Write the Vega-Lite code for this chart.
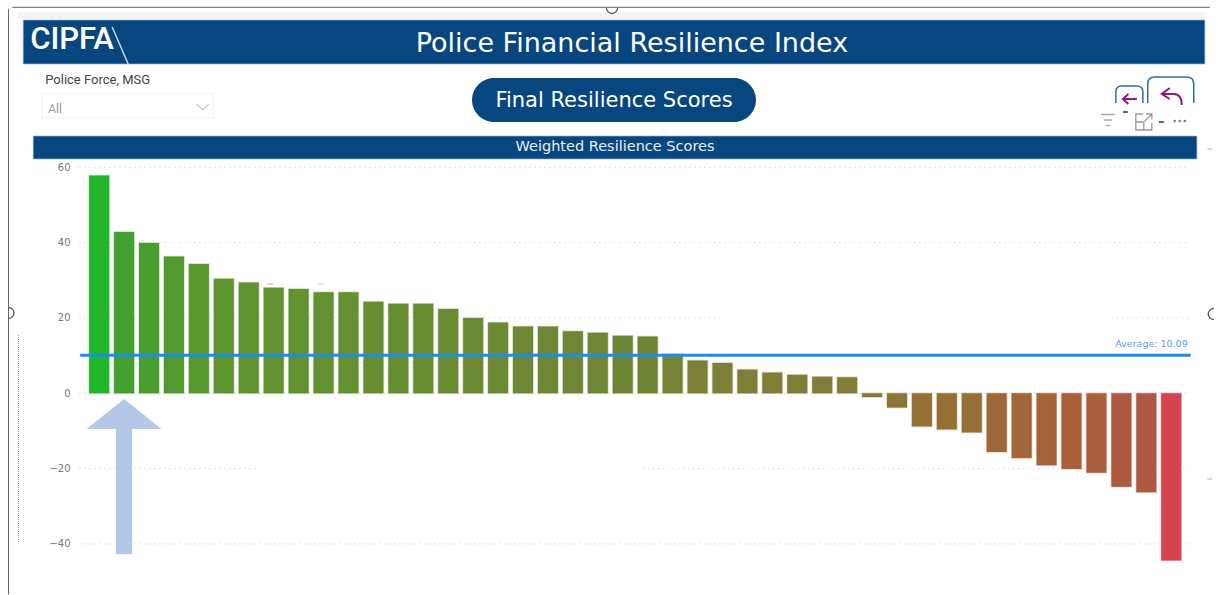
{
"$schema":"https://vega.github.io/schema/vega-lite/v6.json",
"width":1218,"height":595,"padding":0,
"autosize":{"type":"fit","contains":"padding"},
"background":"#ffffff",
"config":{"view":{"stroke":null},"font":"DejaVu Sans"},
"data":{"values":[
{"rank":1,"score":57.8},{"rank":2,"score":42.8},{"rank":3,"score":39.9},{"rank":4,"score":36.3},{"rank":5,"score":34.3},{"rank":6,"score":30.4},{"rank":7,"score":29.4},{"rank":8,"score":28.05},{"rank":9,"score":27.7},{"rank":10,"score":26.8},{"rank":11,"score":26.8},{"rank":12,"score":24.3},{"rank":13,"score":23.8},{"rank":14,"score":23.8},{"rank":15,"score":22.4},{"rank":16,"score":20.0},{"rank":17,"score":18.8},{"rank":18,"score":17.7},{"rank":19,"score":17.7},{"rank":20,"score":16.5},{"rank":21,"score":16.1},{"rank":22,"score":15.3},{"rank":23,"score":15.1},{"rank":24,"score":10.4},{"rank":25,"score":8.7},{"rank":26,"score":8.05},{"rank":27,"score":6.3},{"rank":28,"score":5.5},{"rank":29,"score":4.9},{"rank":30,"score":4.4},{"rank":31,"score":4.25},{"rank":32,"score":-1.0},{"rank":33,"score":-3.8},{"rank":34,"score":-8.8},{"rank":35,"score":-9.6},{"rank":36,"score":-10.4},{"rank":37,"score":-15.6},{"rank":38,"score":-17.2},{"rank":39,"score":-19.1},{"rank":40,"score":-20.1},{"rank":41,"score":-21.1},{"rank":42,"score":-24.8},{"rank":43,"score":-26.3},{"rank":44,"score":-44.4}
]},
"encoding":{
"x":{"field":"rank","type":"quantitative","scale":{"domain":[-2.777,45.675],"nice":false,"zero":false},"axis":null},
"y":{"field":"score","type":"quantitative","scale":{"domain":[-53.55,104.41],"nice":false,"zero":false},"axis":{"values":[-40,-20,0,20,40,60],"title":null,"offset":-74,"minExtent":0,"maxExtent":0,"domain":false,"ticks":false,"grid":false,"labelPadding":4,"labelColor":"#777777","labelFontSize":10,"labelFont":"DejaVu Sans"}}
},
"layer":[
{"data":{"values":[
{"rank":0.198,"rank2":44.74,"score":60},{"rank":0.198,"rank2":44.74,"score":40},{"rank":0.198,"rank2":26.02,"score":20},{"rank":41.62,"rank2":44.74,"score":20},{"rank":0.198,"rank2":44.74,"score":0},{"rank":0.198,"rank2":7.375,"score":-20},{"rank":22.81,"rank2":44.74,"score":-20},{"rank":0.198,"rank2":44.74,"score":-40}
]},"mark":{"type":"rule","stroke":"#d8d8d8","strokeWidth":1,"strokeDash":[1.5,3.5]},"encoding":{"x2":{"field":"rank2"}}},

{"mark":{"type":"bar","orient":"vertical","width":20,"strokeWidth":1.5,"strokeOpacity":0.3},
"encoding":{"y2":{"datum":0},
"color":{"field":"score","type":"quantitative","legend":null,"scale":{"domain":[-44.4,-26.3,0,15,42.8,57.8],"range":["#d64350","#ae5843","#857a3a","#6f8536","#41a030","#22b62a"]}},
"stroke":{"field":"score","type":"quantitative","legend":null,"scale":{"domain":[-44.4,-26.3,0,15,42.8,57.8],"range":["#d64350","#ae5843","#857a3a","#6f8536","#41a030","#22b62a"]}}}},

{"data":{"values":[{"rank":0.238,"rank2":44.78,"score":10.09}]},"mark":{"type":"rule","stroke":"#1a8cf0","strokeWidth":3},"encoding":{"x2":{"field":"rank2"}}},
{"data":{"values":[{"rank":44.66,"score":13.09,"label":"Average: 10.09"}]},"mark":{"type":"text","align":"right","baseline":"middle","fontSize":9.5,"color":"#5b9bf5"},"encoding":{"text":{"field":"label"}}},

{"data":{"values":[{"rank":1.670,"rank2":2.323,"score":-9.48,"score2":-42.74}]},"mark":{"type":"rect","fill":"#b4c7e7"},"encoding":{"x2":{"field":"rank2"},"y2":{"field":"score2"}}},
{"data":{"values":[{"rank":0.491,"score":-9.48,"score2":-9.48},{"rank":2.002,"score":-1.51,"score2":-9.48},{"rank":3.498,"score":-9.48,"score2":-9.48}]},"mark":{"type":"area","fill":"#b4c7e7","orient":"vertical"},"encoding":{"y2":{"field":"score2"}}},

{"data":{"values":[{"rank":-2.248,"rank2":45.35,"score":101.22,"score2":99.36}]},"mark":{"type":"rect","fill":"#f5f5f5"},"encoding":{"x2":{"field":"rank2"},"y2":{"field":"score2"}}},
{"data":{"values":[{"rank":-2.047,"rank2":45.35,"score":99.1,"score2":87.42},{"rank":-1.646,"rank2":45.03,"score":68.3,"score2":62.2}]},"mark":{"type":"rect","fill":"#08467f","stroke":"#8fb4d6","strokeWidth":0.7},"encoding":{"x2":{"field":"rank2"},"y2":{"field":"score2"}}},
{"data":{"values":[{"rank":15.956,"rank2":27.343,"score":83.7,"score2":72.0}]},"mark":{"type":"rect","fill":"#08467f","cornerRadius":22},"encoding":{"x2":{"field":"rank2"},"y2":{"field":"score2"}}},
{"data":{"values":[{"rank":22.37,"score":92.7,"label":"Police Financial Resilience Index"}]},"mark":{"type":"text","align":"center","baseline":"middle","fontSize":27,"color":"#ffffff"},"encoding":{"text":{"field":"label"}}},
{"data":{"values":[{"rank":21.65,"score":77.7,"label":"Final Resilience Scores"}]},"mark":{"type":"text","align":"center","baseline":"middle","fontSize":21,"color":"#ffffff"},"encoding":{"text":{"field":"label"}}},
{"data":{"values":[{"rank":21.69,"score":65.5,"label":"Weighted Resilience Scores"}]},"mark":{"type":"text","align":"center","baseline":"middle","fontSize":14.5,"color":"#e8eef5"},"encoding":{"text":{"field":"label"}}},
{"data":{"values":[{"rank":-1.767,"score":93.9,"label":"CIPFA"}]},"mark":{"type":"text","align":"left","baseline":"middle","font":"Roboto","fontWeight":500,"fontSize":31,"color":"#ffffff"},"encoding":{"text":{"field":"label"}}},
{"data":{"values":[{"rank":1.521,"rank2":2.163,"score":97.24,"score2":87.42}]},"mark":{"type":"rule","stroke":"#cfe0ee","strokeWidth":1.4},"encoding":{"x2":{"field":"rank2"},"y2":{"field":"score2"}}},

{"data":{"values":[{"rank":-1.165,"score":83.17,"label":"Police Force, MSG"}]},"mark":{"type":"text","align":"left","baseline":"middle","font":"Roboto","fontSize":13,"color":"#444444"},"encoding":{"text":{"field":"label"}}},
{"data":{"values":[{"rank":-1.285,"rank2":5.571,"score":79.45,"score2":73.08}]},"mark":{"type":"rect","fill":"#ffffff","stroke":"#eeeeee","strokeWidth":1},"encoding":{"x2":{"field":"rank2"},"y2":{"field":"score2"}}},
{"data":{"values":[{"rank":-1.045,"score":75.4,"label":"All"}]},"mark":{"type":"text","align":"left","baseline":"middle","font":"Roboto","fontSize":12,"color":"#999999"},"encoding":{"text":{"field":"label"}}},
{"data":{"values":[{"rank":5.15,"score":76.0}]},"mark":{"type":"point","shape":"M-1,-0.5 L0,0.5 L1,-0.5","size":144,"filled":false,"stroke":"#aaaaaa","strokeWidth":1,"opacity":1}},

{"data":{"values":[{"rank":42.32,"score":79.32}]},"mark":{"type":"point","shape":"M-1,0.63 V-0.2 Q-1,-0.63 -0.55,-0.63 H0.55 Q1,-0.63 1,-0.2 V0.63","size":729,"filled":false,"stroke":"#2f6f9f","strokeWidth":1.5,"opacity":1}},
{"data":{"values":[{"rank":43.98,"score":80.52}]},"mark":{"type":"point","shape":"M-1,0.565 V-0.25 Q-1,-0.565 -0.7,-0.565 H0.7 Q1,-0.565 1,-0.25 V0.565","size":2116,"filled":false,"stroke":"#2f6f9f","strokeWidth":1.5,"opacity":1}},
{"data":{"values":[{"rank":42.34,"score":78.13}]},"mark":{"type":"point","shape":"M1,0 H-1 M-0.2,-0.7 L-1,0 L-0.2,0.7","size":196,"filled":false,"stroke":"#8a1a8a","strokeWidth":2,"opacity":1}},
{"data":{"values":[{"rank":44.02,"score":78.92}]},"mark":{"type":"point","shape":"M-0.2,-0.8 L-1,-0.2 L-0.2,0.3 M-1,-0.2 H0.2 Q1,-0.2 1,0.9","size":400,"filled":false,"stroke":"#8a1a8a","strokeWidth":2,"opacity":1}},
{"data":{"values":[{"rank":41.46,"score":72.55}]},"mark":{"type":"point","shape":"M-1,-0.8 H1 M-0.6,0 H0.6 M-0.3,0.8 H0.3","size":196,"filled":false,"stroke":"#aaaaaa","strokeWidth":1.5,"opacity":1}},
{"data":{"values":[{"rank":42.9,"score":72.02}]},"mark":{"type":"point","shape":"M-0.1,-1 H-1 V1 H1 V0.1 M-1,0 H0 V1 M0.1,-0.1 L1,-1 M0.3,-1 H1 V-0.3","size":256,"filled":false,"stroke":"#999999","strokeWidth":1.3,"opacity":1}},
{"data":{"values":[{"rank":42.16,"score":74.68},{"rank":43.6,"score":72.02}]},"mark":{"type":"point","shape":"M-1,0 H1","size":25,"filled":false,"stroke":"#2f6f9f","strokeWidth":2,"opacity":1}},
{"data":{"values":[{"rank":44.14,"score":72.28},{"rank":44.34,"score":72.28},{"rank":44.54,"score":72.28}]},"mark":{"type":"point","shape":"circle","size":6,"filled":true,"fill":"#777777","opacity":1}},
{"data":{"values":[{"rank":45.55,"score":64.85},{"rank":45.55,"score":-22.75}]},"mark":{"type":"point","shape":"M-1,0 H1","size":25,"filled":false,"stroke":"#aaaaaa","strokeWidth":1,"opacity":1}},
{"data":{"values":[{"rank":7.86,"score":29.01}]},"mark":{"type":"point","shape":"M-1,0 H1","size":36,"filled":false,"stroke":"#e59a9a","strokeWidth":1,"opacity":1}},
{"data":{"values":[{"rank":9.9,"score":29.01}]},"mark":{"type":"point","shape":"M-1,0 H1","size":36,"filled":false,"stroke":"#a5dcb5","strokeWidth":1,"opacity":1}},

{"data":{"values":[{"rank":-2.236,"score":15.48,"score2":-39.74}]},"mark":{"type":"rule","stroke":"#999999","strokeWidth":1,"strokeDash":[1,1]},"encoding":{"y2":{"field":"score2"}}},
{"data":{"values":[{"rank":-2.488,"rank2":45.55,"score":102.47}]},"mark":{"type":"rule","stroke":"#666666","strokeWidth":1},"encoding":{"x2":{"field":"rank2"}}},
{"data":{"values":[{"rank":-2.637,"score":102.0,"score2":-53.4}]},"mark":{"type":"rule","stroke":"#666666","strokeWidth":1},"encoding":{"y2":{"field":"score2"}}},
{"data":{"values":[{"rank":21.57,"score":102.28}]},"mark":{"type":"point","shape":"M-1,0 A1,1 0 0 0 1,0","size":121,"filled":false,"stroke":"#555555","strokeWidth":1.3,"opacity":1}},
{"data":{"values":[{"rank":-2.637,"score":21.32}]},"mark":{"type":"point","shape":"M0,-1 A1,1 0 0 1 0,1","size":121,"filled":false,"stroke":"#555555","strokeWidth":1.3,"opacity":1}},
{"data":{"values":[{"rank":45.55,"score":21.05}]},"mark":{"type":"point","shape":"M0.7,-1 A1,1 0 0 0 0.7,1","size":121,"filled":false,"stroke":"#555555","strokeWidth":1.3,"opacity":1}}
]
}
